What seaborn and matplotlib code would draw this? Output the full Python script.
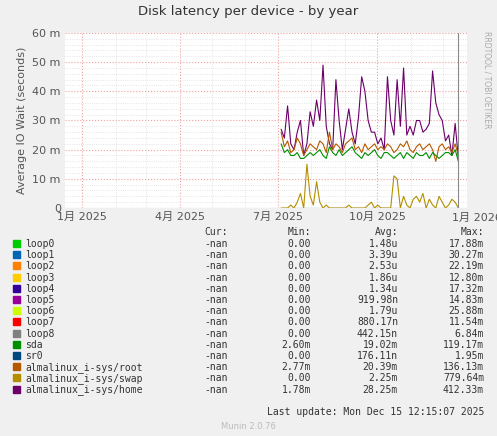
import matplotlib
matplotlib.use("Agg")
import matplotlib.pyplot as plt
import seaborn as sns
import pandas as pd
import numpy as np
import matplotlib.dates as mdates

sns.set_style("white")
plt.rcParams['font.family'] = ['DejaVu Sans', 'Noto Sans CJK JP']

start = "2025-07-04"
end = "2025-12-15"
home = [27,24,35,22,20,26,30,18,22,33,28,37,30,49,28,22,20,44,30,20,27,34,26,22,31,45,40,30,26,26,22,24,20,45,30,25,44,28,48,25,28,25,30,30,26,27,29,47,36,32,30,23,25,18,29,17]
root = [26,21,23,19,20,24,22,18,20,22,21,20,23,22,19,26,20,22,21,19,22,23,24,20,21,19,22,20,21,22,20,21,20,22,21,19,20,22,21,23,20,19,21,22,20,21,22,20,16,21,22,20,21,19,22,18]
sda = [22,19,20,18,18,19,17,17,18,19,18,19,20,18,17,21,19,18,20,18,19,20,21,19,18,17,19,18,19,20,18,17,19,19,18,17,18,19,17,19,18,17,19,18,18,19,17,19,18,17,18,19,19,18,20,16]
swap = [0,0,0,1,0,2,5,0,15,4,1,9,2,0,1,0,0,0,0,0,0,1,0,0,0,0,0,1,2,0,1,0,0,0,0,11,10,0,4,1,0,3,4,2,5,0,3,1,0,4,2,0,1,3,2,0]

labels = ["loop0","loop1","loop2","loop3","loop4","loop5","loop6","loop7","loop8","sda","sr0",
          "almalinux_i-sys/root","almalinux_i-sys/swap","almalinux_i-sys/home"]
colors = ["#00CC00","#0066B3","#FF8000","#FFCC00","#330099","#990099","#CCFF00","#FF0000","#808080",
          "#008F00","#00487D","#B35A00","#B38F00","#6B006B"]
mins = ["0.00","0.00","0.00","0.00","0.00","0.00","0.00","0.00","0.00","2.60m","0.00","2.77m","0.00","1.78m"]
avgs = ["1.48u","3.39u","2.53u","1.86u","1.34u","919.98n","1.79u","880.17n","442.15n","19.02m","176.11n","20.39m","2.25m","28.25m"]
maxs = ["17.88m","30.27m","22.19m","12.80m","17.32m","14.83m","25.88m","11.54m","6.84m","119.17m","1.95m","136.13m","779.64m","412.33m"]

dates = pd.date_range(start, end, periods=len(home))
df = pd.DataFrame({"date": dates, "home": home, "root": root, "sda": sda, "swap": swap})

fig = plt.figure(figsize=(4.97, 4.36), dpi=100, facecolor="#F0F0F0")
L, R, T, B = 65, 467, 33, 208
ax = fig.add_axes([L/497, 1-B/436, (R-L)/497, (B-T)/436])
ax.set_facecolor("white")
zero = pd.DataFrame({"date": dates, "v": [0]*len(home)})
sns.lineplot(data=zero, x="date", y="v", ax=ax, color="#0066B3", lw=0.8)
sns.lineplot(data=df, x="date", y="swap", ax=ax, color="#B38F00", lw=0.8)
sns.lineplot(data=df, x="date", y="home", ax=ax, color="#6B006B", lw=0.8)
sns.lineplot(data=df, x="date", y="root", ax=ax, color="#B35A00", lw=0.8)
sns.lineplot(data=df, x="date", y="sda", ax=ax, color="#008F00", lw=0.8)

ax.set_xlim(pd.Timestamp("2024-12-16"), pd.Timestamp("2025-12-23"))
ax.set_ylim(0, 60)
ax.set_yticks(range(0, 61, 10))
ax.set_yticklabels(["0"] + [f"{v} m" for v in range(10, 61, 10)], fontsize=8, color="#555555")
ax.set_yticks(range(0, 61, 2), minor=True)
ticks = [pd.Timestamp(d) for d in ["2025-01-01","2025-04-01","2025-07-01","2025-10-01"]]
ax.set_xticks(ticks)
ax.set_xticklabels(["1月 2025","4月 2025","7月 2025","10月 2025"], fontsize=8, color="#555555")
ax.xaxis.set_minor_locator(mdates.MonthLocator())
ax.grid(True, which="major", axis="both", color="#F0A0A0", ls=":", lw=0.8)
ax.grid(True, which="minor", axis="both", color="#DDDDDD", ls=":", lw=0.6)
ax.axvline(pd.Timestamp("2025-12-15"), color="#888888", lw=0.8)
for s in ax.spines.values():
    s.set_visible(False)
ax.axhline(0, color="#C8C8F0", lw=0.8)
ax.set_xlabel("")
ax.set_ylabel("Average IO Wait (seconds)", fontsize=8, color="#555555", labelpad=4)
ax.tick_params(length=0, pad=3)
fig.text(477/497, 1-218/436, "1月 2026", ha="center", va="center", fontsize=8, color="#555555")
fig.text(0.5, 1-12/436, "Disk latency per device - by year", ha="center", va="center", fontsize=9.5, color="#333333")
fig.text(487/497, 1-80/436, "RRDTOOL / TOBI OETIKER", rotation=270, ha="center", va="center", fontsize=5.5, color="#AAAAAA")

mono = dict(family="DejaVu Sans Mono", fontsize=7, color="#333333")
y0 = 232
fig.text(228/497, 1-y0/436, "Cur:", ha="right", va="center", **mono)
fig.text(311/497, 1-y0/436, "Min:", ha="right", va="center", **mono)
fig.text(398/497, 1-y0/436, "Avg:", ha="right", va="center", **mono)
fig.text(484/497, 1-y0/436, "Max:", ha="right", va="center", **mono)
for i, lab in enumerate(labels):
    y = 1 - (y0 + 12 + i*11.2)/436
    fig.patches.append(plt.Rectangle((13/497, y-3/436), 7/497, 7/436, transform=fig.transFigure, color=colors[i]))
    fig.text(25/497, y, lab, ha="left", va="center", **mono)
    fig.text(228/497, y, "-nan", ha="right", va="center", **mono)
    fig.text(311/497, y, mins[i], ha="right", va="center", **mono)
    fig.text(398/497, y, avgs[i], ha="right", va="center", **mono)
    fig.text(484/497, y, maxs[i], ha="right", va="center", **mono)
fig.text(484/497, 1-412/436, "Last update: Mon Dec 15 12:15:07 2025", ha="right", va="center", **mono)
fig.text(0.5, 1-426/436, "Munin 2.0.76", ha="center", va="center", fontsize=6, color="#BBBBBB")
fig.savefig("out.png", dpi=100, facecolor=fig.get_facecolor())
